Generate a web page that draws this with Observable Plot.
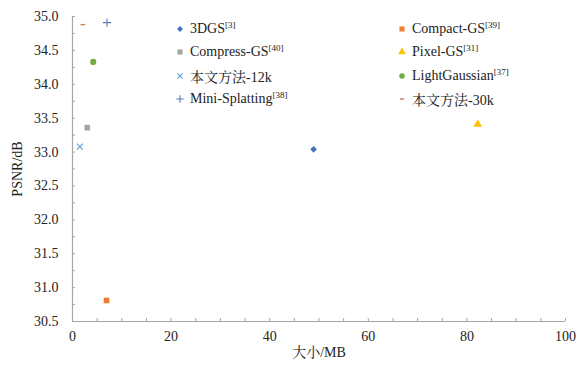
<!DOCTYPE html>
<html>
<head>
<meta charset="utf-8">
<script src="https://cdn.jsdelivr.net/npm/d3@7"></script>
<script src="https://cdn.jsdelivr.net/npm/@observablehq/plot@0.6"></script>
</head>
<body style="margin:0;padding:0;background:#fff;font-family:'Liberation Serif','Noto Serif CJK SC'">
<div id="wrap" style="position:relative;width:588px;height:365px"><div id="legend" style="position:absolute;left:172px;top:19px;display:grid;grid-template-columns:222px 170px;row-gap:3.3px;font-size:14px;color:#222"></div></div>
<script>
// ---- data ----
const methods = ["3DGS", "Compact-GS", "Compress-GS", "Pixel-GS", "本文方法-12k", "LightGaussian", "Mini-Splatting", "本文方法-30k"];
const refs    = ["3", "39", "40", "31", "", "37", "38", ""];
const sizeMB  = [48.9, 6.9, 3.0, 82.2, 1.5, 4.2, 7.0, 2.1];
const psnr    = [33.04, 30.81, 33.36, 33.41, 33.08, 34.33, 34.91, 34.88];
const xTicks  = [0, 20, 40, 60, 80, 100];
const yTicks  = [30.5, 31.0, 31.5, 32.0, 32.5, 33.0, 33.5, 34.0, 34.5, 35.0];

// ---- styles ----
const FONT = "'Liberation Serif', 'Noto Serif CJK SC'";
const dash = { draw(ctx, size) { const r = Math.sqrt(size / Math.PI); ctx.rect(-r, -0.7, 2 * r, 1.4); } };
const styles = [
  { symbol: "diamond2", fill: "#4472C4", r: 3.0 },
  { symbol: "square",   fill: "#ED7D31", r: 3.2 },
  { symbol: "square",   fill: "#A5A5A5", r: 3.2 },
  { symbol: "triangle", fill: "#FFC000", r: 3.2 },
  { symbol: "times",    stroke: "#5B9BD5", r: 2.8 },
  { symbol: "circle",   fill: "#70AD47", r: 3.1 },
  { symbol: "plus",     stroke: "#5A7DBE", r: 2.8 },
  { symbol: dash,       fill: "#C8835A", r: 2.4 }
];

const data = methods.map((m, i) => ({ method: m, size: sizeMB[i], psnr: psnr[i], i }));
const axisColor = "#A6A6A6";

const marks = [
  Plot.ruleX([0], { stroke: axisColor, strokeWidth: 1.2 }),
  Plot.ruleY([30.5], { stroke: axisColor, strokeWidth: 1.2 }),
  Plot.axisX({ ticks: d3.range(0, 100.01, 5), tickSize: -3, stroke: axisColor, text: null, label: null }),
  Plot.axisY({ ticks: d3.range(30.5, 35.01, 0.25), tickSize: -3, stroke: axisColor, text: null, label: null }),
  Plot.axisX({ ticks: xTicks, tickSize: 0, tickPadding: 10, fontSize: 14, fill: "#222",
               label: "大小/MB", labelAnchor: "center", labelArrow: false, labelOffset: 35 }),
  Plot.axisY({ ticks: yTicks, tickSize: 0, tickPadding: 14, fontSize: 14, fill: "#222", tickFormat: d3.format(".1f"),
               label: "PSNR/dB", labelAnchor: "center", labelArrow: false, labelOffset: 60 })
];
styles.forEach((s, i) => {
  marks.push(Plot.dot(data.filter(d => d.i === i), {
    x: "size", y: "psnr", symbol: () => s.symbol, r: s.r,
    fill: s.fill || "none", stroke: s.stroke || "none", strokeWidth: s.stroke ? 1.1 : 0
  }));
});

const chart = Plot.plot({
  width: 588, height: 365,
  marginLeft: 72, marginRight: 23, marginTop: 16, marginBottom: 44,
  x: { domain: [0, 100] },
  y: { domain: [30.5, 35] },
  symbol: { type: "identity" },
  marks
});
chart.style.fontFamily = FONT;
chart.style.fontSize = "14px";
chart.style.background = "white";
chart.querySelectorAll("g, text").forEach(el => { el.style.fontFamily = FONT; });
document.getElementById("wrap").prepend(chart);

// ---- legend (HTML) ----
const legend = d3.select("#legend");
const symbolTypes = { diamond2: d3.symbolDiamond2, square: d3.symbolSquare, triangle: d3.symbolTriangle, times: d3.symbolTimes, circle: d3.symbolCircle, plus: d3.symbolPlus };
methods.forEach((m, i) => {
  const s = styles[i];
  const item = legend.append("div")
    .style("display", "flex").style("align-items", "center").style("height", "20px")
    .style("white-space", "nowrap").style("font-family", FONT);
  const svg = item.append("svg").attr("viewBox", "-8 -8 16 16")
    .style("width", "16px").style("height", "16px").style("margin-right", "2px").style("flex", "none");
  const type = typeof s.symbol === "string" ? symbolTypes[s.symbol] : s.symbol;
  svg.append("path")
    .attr("d", d3.symbol(type, Math.PI * s.r * s.r * 0.8)())
    .attr("fill", s.fill || "none").attr("stroke", s.stroke || "none").attr("stroke-width", s.stroke ? 1.1 : 0);
  const label = item.append("span").style("font-family", FONT);
  label.append("span").style("font-family", FONT).text(m);
  if (refs[i]) label.append("span").style("font-size", "9px").style("position", "relative").style("top", "-5px").text("[" + refs[i] + "]");
});
</script>
</body>
</html>
